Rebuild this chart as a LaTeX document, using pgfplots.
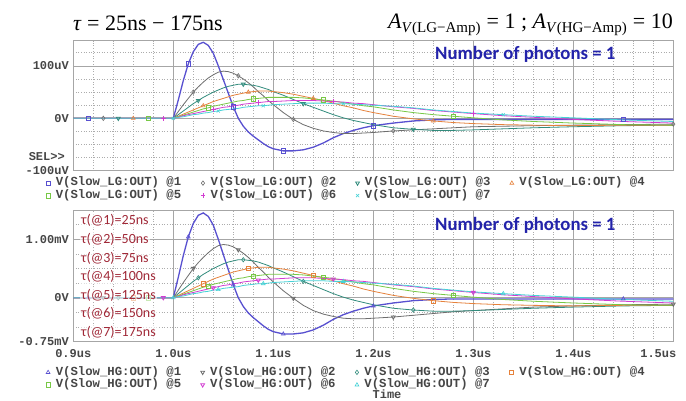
\documentclass[border=0pt]{standalone}
\usepackage{fontspec}
\setmainfont{Liberation Serif}
\setmonofont{Liberation Mono}
\newfontfamily\carlito{Carlito}
\usepackage{pgfplots}
\usepackage{pgfplotstable}
\pgfplotsset{compat=1.18}

\definecolor{c1}{RGB}{88,80,208}
\definecolor{c2}{RGB}{110,110,110}
\definecolor{c3}{RGB}{50,140,125}
\definecolor{c4}{RGB}{230,130,60}
\definecolor{c5}{RGB}{120,200,70}
\definecolor{c6}{RGB}{210,60,210}
\definecolor{c7}{RGB}{70,210,215}
\definecolor{photon}{RGB}{35,35,170}
\definecolor{taured}{RGB}{160,40,55}
\definecolor{tickc}{RGB}{70,70,70}

% time (us), outputs of the 7 shapers (LG in uV; HG in 0.01 mV), s2h = HG trace @2
\pgfplotstableread{
t     s1   s2   s3   s4   s5   s6   s7   s2h
0.900 0    0    0    0    0    0    0    0
0.915 0    0    0    0    0    0    0    0
0.930 0    0    0    0    0    0    0    0
0.945 0    0    0    0    0    0    0    0
0.960 0    0    0    0    0    0    0    0
0.975 0    0    0    0    0    0    0    0
0.990 0    0    0    0    0    0    0    0
1.000 0    0    0    0    0    0    0    0
1.005 35   13   7    4    3    2    2    13
1.010 72   26   14   8    6    5    3    26
1.015 104  38   21   12   9    7    5    38
1.020 127  50   28   16   12   9    7    50
1.025 141  60   34   20   15   11   8    60
1.030 145  69   40   24   18   13   10   69
1.035 139  77   45   28   20   15   11   77
1.040 124  83   50   32   23   17   13   84
1.045 100  88   54   35   25   19   14   89
1.050 74   90   58   38   27   21   16   91
1.055 48   89   61   41   29   22   17   90
1.060 22   86   63   44   31   24   18   87
1.065 0    81   65   46   33   25   19   82
1.070 -15  75   65   48   34   27   21   76
1.075 -26  68   64   50   36   28   22   69
1.080 -34  60   63   51   37   29   23   61
1.085 -41  51   61   52   38   30   24   52
1.090 -48  43   58   52   39   31   24   44
1.095 -54  34   55   52   40   32   25   35
1.100 -58  26   51   51   40   32   26   27
1.110 -62  11   44   49   40   33   27   12
1.120 -62  -2   36   46   40   34   28   -1
1.130 -60  -12  28   42   39   34   29   -13
1.140 -55  -19  21   38   37   34   29   -22
1.150 -47  -24  14   34   35   33   29   -28
1.160 -37  -27  7    29   33   32   28   -32
1.170 -29  -29  1    24   30   31   28   -35
1.180 -23  -29  -4   20   27   29   27   -36
1.190 -18  -28  -8   15   24   28   26   -36
1.200 -14  -27  -12  11   22   26   25   -35
1.220 -9   -24  -18  4    16   22   23   -33
1.240 -5   -22  -21  -1   11   19   20   -30
1.260 -3   -20  -23  -5   7    15   16   -27
1.280 -2   -18  -23  -8   4    12   13   -24
1.300 -2   -16  -22  -10  1    9    10   -22
1.330 -2   -15  -20  -12  -3   5    7    -19
1.360 -2   -14  -18  -13  -6   2    4    -16
1.400 -2   -13  -16  -14  -9   -2   1    -14
1.450 -2   -12  -14  -13  -12  -6   -3   -12
1.500 -2   -11  -13  -13  -13  -9   -6   -11
}\shaper

\pgfplotsset{
  pspice/.style={
    scale only axis, width=600pt,
    xmin=0.9, xmax=1.5,
    xtick={0.9,1.0,1.1,1.2,1.3,1.4,1.5},
    minor xtick={0.92,0.94,0.96,0.98,1.02,1.04,1.06,1.08,1.12,1.14,1.16,1.18,1.22,1.24,1.26,1.28,1.32,1.34,1.36,1.38,1.42,1.44,1.46,1.48},
    grid=both,
    major grid style={gray!70, line width=0.7pt},
    minor grid style={gray!65, line width=0.6pt, dotted},
    axis line style={gray!70, line width=0.8pt},
    tick style={draw=none},
    ticklabel style={font=\ttfamily\bfseries\fontsize{12}{12}\selectfont, text=tickc},
    yticklabel style={xshift=-1pt},
    clip=true,
    legend columns=4,
    legend cell align=left,
    legend image code/.code={\draw[##1,mark repeat=1,mark phase=1] plot coordinates {(0pt,0pt)};},
    legend style={draw=none, fill=none, inner sep=0pt, anchor=north west,
      font=\ttfamily\bfseries\fontsize{12.3}{12}\selectfont, text=tickc,
      nodes={inner sep=0.5pt, text height=8.5pt, text depth=3pt},
      /tikz/every odd column/.style={column sep=5pt},
      /tikz/every even column/.style={column sep=19pt}},
    every axis plot/.append style={line width=0.8pt, mark size=2.2pt, mark options={solid, line width=0.6pt}, mark repeat=9},
  }
}

\begin{document}
\begin{tikzpicture}[x=1pt,y=1pt]
\path[use as bounding box, fill=white] (0pt,0pt) rectangle (686pt,400pt);

% ---------- top panel: LG ----------
\begin{axis}[pspice, at={(73.3pt,229.2pt)}, anchor=south west, height=130.1pt,
  ymin=-100, ymax=148,
  ytick={-100,0,100}, yticklabels={-100uV,0V,100uV},
  minor ytick={-75,-50,-25,25,50,75,125},
  xticklabels={},
  legend style={at={(-0.046,-0.045)}},
]
\addplot[c1, line width=1.3pt, mark=square, mark phase=2] table[x=t,y=s1] {\shaper};
\addlegendentry{V(Slow\_LG:OUT) @1}
\addplot[c2, mark=diamond, mark phase=3] table[x=t,y=s2] {\shaper};
\addlegendentry{V(Slow\_LG:OUT) @2}
\addplot[c3, mark=triangle, mark phase=4, mark options={rotate=180}] table[x=t,y=s3] {\shaper};
\addlegendentry{V(Slow\_LG:OUT) @3}
\addplot[c4, mark=triangle, mark phase=5] table[x=t,y=s4] {\shaper};
\addlegendentry{V(Slow\_LG:OUT) @4}
\addplot[c5, mark=square, mark phase=6] table[x=t,y=s5] {\shaper};
\addlegendentry{V(Slow\_LG:OUT) @5}
\addplot[c6, mark=+, mark phase=7] table[x=t,y=s6] {\shaper};
\addlegendentry{V(Slow\_LG:OUT) @6}
\addplot[c7, mark=x, mark phase=8] table[x=t,y=s7] {\shaper};
\addlegendentry{V(Slow\_LG:OUT) @7}
\end{axis}

% ---------- bottom panel: HG ----------
\begin{axis}[pspice, at={(73.3pt,58.4pt)}, anchor=south west, height=131.6pt,
  ymin=-75, ymax=150,
  ytick={-75,0,100}, yticklabels={-0.75mV,0V,1.00mV},
  minor ytick={-50,-25,25,50,75,125},
  xticklabels={0.9us,1.0us,1.1us,1.2us,1.3us,1.4us,\hspace*{-30pt}1.5us},
  xticklabel style={yshift=-4pt},
  legend style={at={(-0.046,-0.185)}},
]
\addplot[c1, line width=1.3pt, mark=triangle, mark phase=2] table[x=t,y=s1] {\shaper};
\addlegendentry{V(Slow\_HG:OUT) @1}
\addplot[c2, mark=triangle, mark phase=3, mark options={rotate=180}] table[x=t,y=s2h] {\shaper};
\addlegendentry{V(Slow\_HG:OUT) @2}
\addplot[c3, mark=diamond, mark phase=4] table[x=t,y=s3] {\shaper};
\addlegendentry{V(Slow\_HG:OUT) @3}
\addplot[c4, mark=square, mark phase=5] table[x=t,y=s4] {\shaper};
\addlegendentry{V(Slow\_HG:OUT) @4}
\addplot[c5, mark=square, mark phase=6] table[x=t,y=s5] {\shaper};
\addlegendentry{V(Slow\_HG:OUT) @5}
\addplot[c6, mark=triangle, mark phase=7, mark options={rotate=180}] table[x=t,y=s6] {\shaper};
\addlegendentry{V(Slow\_HG:OUT) @6}
\addplot[c7, mark=triangle, mark phase=8] table[x=t,y=s7] {\shaper};
\addlegendentry{V(Slow\_HG:OUT) @7}
\end{axis}

% ---------- texts ----------
\node[anchor=base west, inner sep=0pt] at (73pt,369pt) {\fontsize{22}{24}\selectfont \textit{τ} = 25ns − 175ns};
\node[anchor=base east, inner sep=0pt] at (673pt,371pt) {\fontsize{22}{24}\selectfont \textit{A}\textsubscript{\fontsize{15}{15}\selectfont\textit{V}(LG−Amp)} = 1 ; \textit{A}\textsubscript{\fontsize{15}{15}\selectfont\textit{V}(HG−Amp)} = 10};
\node[anchor=base west, inner sep=0pt, text=photon] at (435pt,340.7pt) {\carlito\bfseries\fontsize{18.8}{20}\selectfont Number of photons = 1};
\node[anchor=base west, inner sep=0pt, text=photon] at (435pt,170pt) {\carlito\bfseries\fontsize{18.8}{20}\selectfont Number of photons = 1};
\node[anchor=east, inner sep=0pt, text=tickc] at (65pt,243pt) {\ttfamily\bfseries\fontsize{12}{12}\selectfont SEL>>};
\foreach \i/\v in {1/25,2/50,3/75,4/100,5/125,6/150,7/175}{
  \node[anchor=west, inner sep=1pt, fill=white, fill opacity=0.6, text opacity=1, text=taured]
    at (80pt,{(400-220.7-18.6*(\i-1))*1pt}) {\carlito\fontsize{14}{14}\selectfont τ(@\i)=\v ns};
}
\node[anchor=center, inner sep=0pt, text=tickc] at (387pt,5.5pt) {\ttfamily\bfseries\fontsize{12}{12}\selectfont Time};
\end{tikzpicture}
\end{document}
